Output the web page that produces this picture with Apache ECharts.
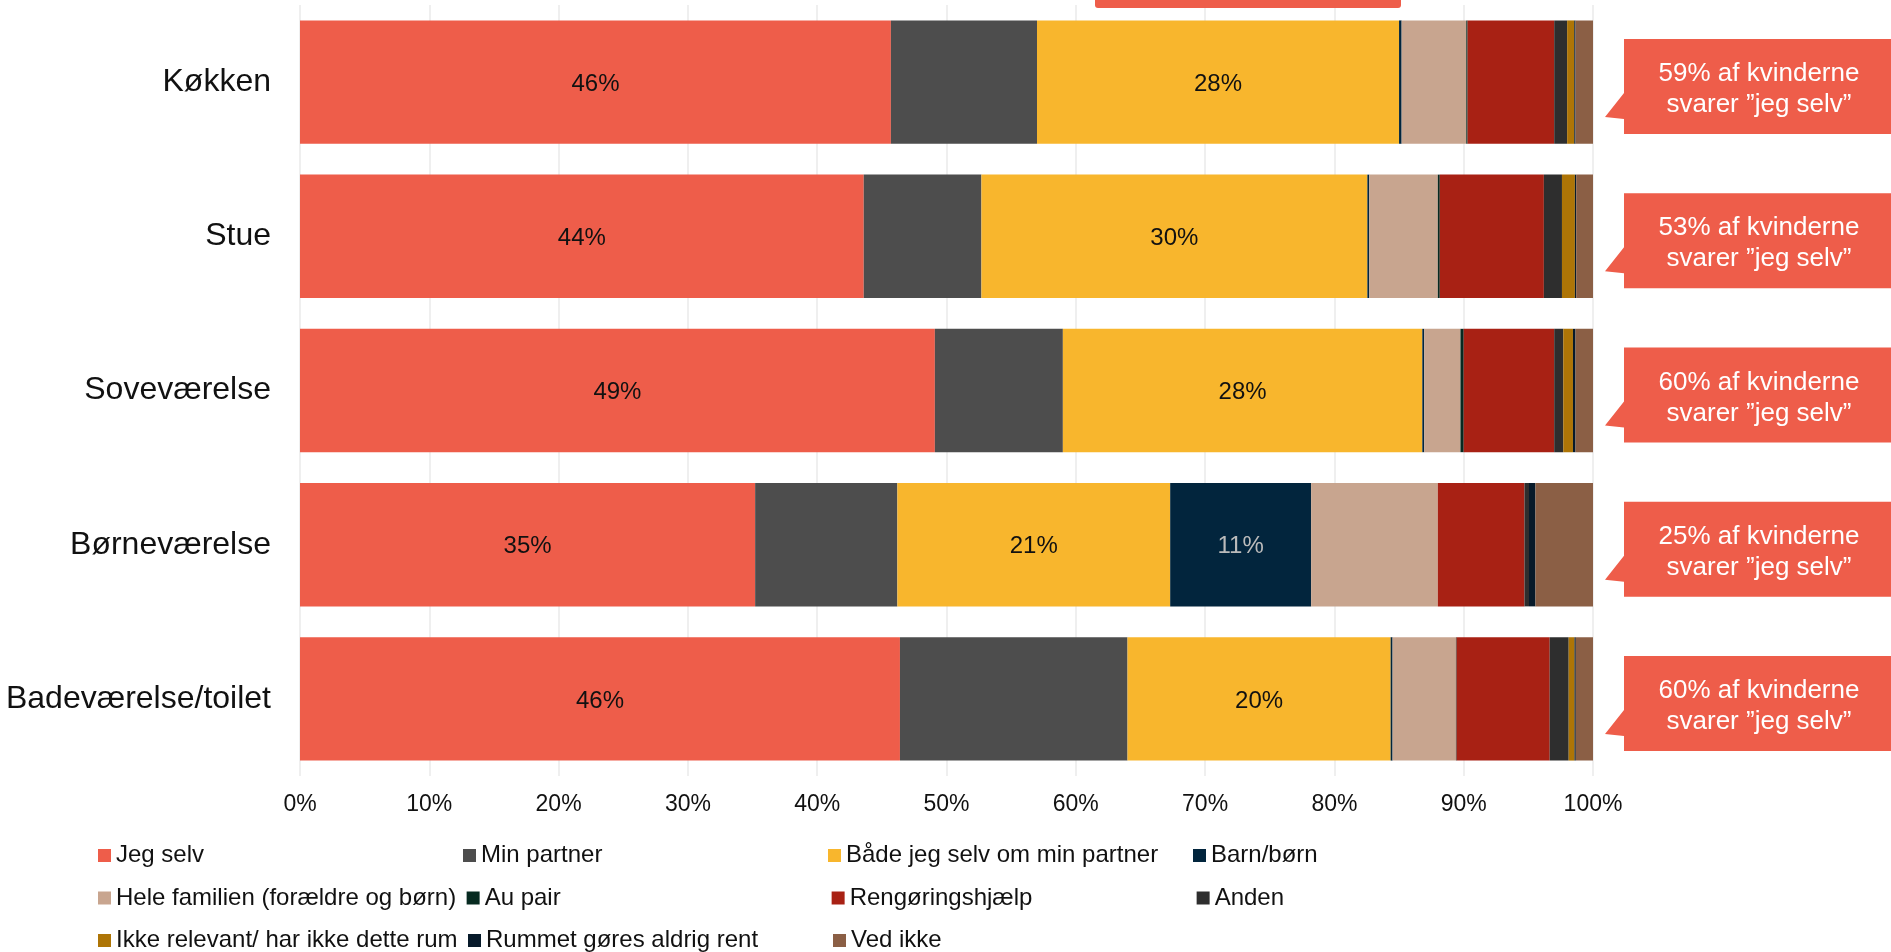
<!DOCTYPE html>
<html><head><meta charset="utf-8">
<script src="https://cdn.jsdelivr.net/npm/echarts@6/dist/echarts.min.js"></script>
<style>html,body{margin:0;padding:0;background:#fff}#c{width:1891px;height:952px}</style>
</head><body><div id="c"></div>
<script>
const categories = ['Køkken', 'Stue', 'Soveværelse', 'Børneværelse', 'Badeværelse/toilet'];
const seriesNames = ['Jeg selv', 'Min partner', 'Både jeg selv om min partner', 'Barn/børn',
  'Hele familien (forældre og børn)', 'Au pair', 'Rengøringshjælp', 'Anden',
  'Ikke relevant/ har ikke dette rum', 'Rummet gøres aldrig rent', 'Ved ikke'];
const jegSelv      = [45.7, 43.6, 49.1, 35.2, 46.4];
const minPartner   = [11.3, 9.1, 9.9, 11.0, 17.6];
const baade        = [28.0, 29.85, 27.8, 21.1, 20.35];
const barn         = [0.2, 0.15, 0.15, 10.9, 0.15];
const hele         = [5.0, 5.3, 2.8, 9.8, 4.9];
const auPair       = [0.1, 0.15, 0.25, 0, 0.05];
const rengoering   = [6.7, 8.05, 7.0, 6.7, 7.2];
const anden        = [1.0, 1.4, 0.7, 0.35, 1.47];
const ikkeRelevant = [0.55, 1.0, 0.75, 0, 0.45];
const rummet       = [0.1, 0.1, 0.2, 0.5, 0.1];
const vedIkke      = [1.35, 1.3, 1.35, 4.45, 1.33];
const callouts = ['59% af kvinderne\nsvarer ”jeg selv”', '53% af kvinderne\nsvarer ”jeg selv”',
  '60% af kvinderne\nsvarer ”jeg selv”', '25% af kvinderne\nsvarer ”jeg selv”', '60% af kvinderne\nsvarer ”jeg selv”'];
const xTicks = [0, 10, 20, 30, 40, 50, 60, 70, 80, 90, 100];

const values = [jegSelv, minPartner, baade, barn, hele, auPair, rengoering, anden, ikkeRelevant, rummet, vedIkke];
const colors = ['#EE5D4A', '#4D4D4D', '#F8B62D', '#02253D', '#C8A58F', '#062A20', '#A82114', '#2E2E2E', '#AE7506', '#071A2A', '#8B5F45'];
const labelled = {0: '#111', 2: '#111', 3: '#bbbbbb'};
const FONT = '"Liberation Sans", Arial, sans-serif';

const chart = echarts.init(document.getElementById('c'), null, {renderer: 'canvas'});
const series = values.map((v, i) => ({
  name: seriesNames[i], type: 'bar', stack: 'all', data: v, barCategoryGap: '20%',
  itemStyle: {color: colors[i]},
  label: labelled[i] ? {show: true, position: 'inside', offset: [0, 2], color: labelled[i], fontFamily: FONT, fontSize: 24,
    formatter: p => p.value >= 5 ? Math.round(p.value) + '%' : ''} : {show: false},
  emphasis: {disabled: true}
}));

chart.setOption({
  animation: false,
  textStyle: {fontFamily: FONT},
  grid: {left: 300, right: 298, top: 5, bottom: 176, containLabel: false},
  xAxis: {type: 'value', min: xTicks[0], max: xTicks[xTicks.length - 1], interval: 10,
    axisLine: {show: false}, axisTick: {show: false},
    axisLabel: {formatter: '{value}%', color: '#111', fontSize: 23, fontFamily: FONT, margin: 17},
    splitLine: {show: true, lineStyle: {color: '#efefef', width: 2}}},
  yAxis: {type: 'category', data: categories, inverse: true,
    axisLine: {show: false}, axisTick: {show: false},
    axisLabel: {color: '#111', fontSize: 32, fontFamily: FONT, margin: 29, padding: [9, 0, 0, 0]}},
  legend: {left: 98, top: 839.5, width: 1500, padding: 0, itemWidth: 13, itemHeight: 13, itemGap: 10.5,
    icon: 'rect', data: seriesNames, selectedMode: false,
    textStyle: {color: '#111', fontSize: 24, fontFamily: FONT, width: 336.5, lineHeight: 32}},
  series: series
});

// annotations: callout bubbles aligned to each category
const rightEdge = chart.convertToPixel({xAxisIndex: 0}, 100);
const graphics = [{
  type: 'rect', shape: {x: 1095, y: -20, width: 306, height: 28, r: 3},
  style: {fill: '#EE5D4A'}, z: 10
}];
categories.forEach((c, i) => {
  const cy = chart.convertToPixel({yAxisIndex: 0}, c);
  const top = cy - 43, left = rightEdge + 31, h = 95;
  graphics.push({
    type: 'polygon', z: 10,
    shape: {points: [[left, top], [1900, top], [1900, top + h], [left, top + h], [left, top + 80], [left - 19, top + 78], [left, top + 54]]},
    style: {fill: '#EE5D4A'}
  });
  graphics.push({
    type: 'text', z: 11, x: 1759, y: top + h / 2 + 3,
    style: {text: callouts[i], fill: '#fff', font: '26px ' + FONT, align: 'center', verticalAlign: 'middle', lineHeight: 31}
  });
});
chart.setOption({graphic: graphics});
</script></body></html>
